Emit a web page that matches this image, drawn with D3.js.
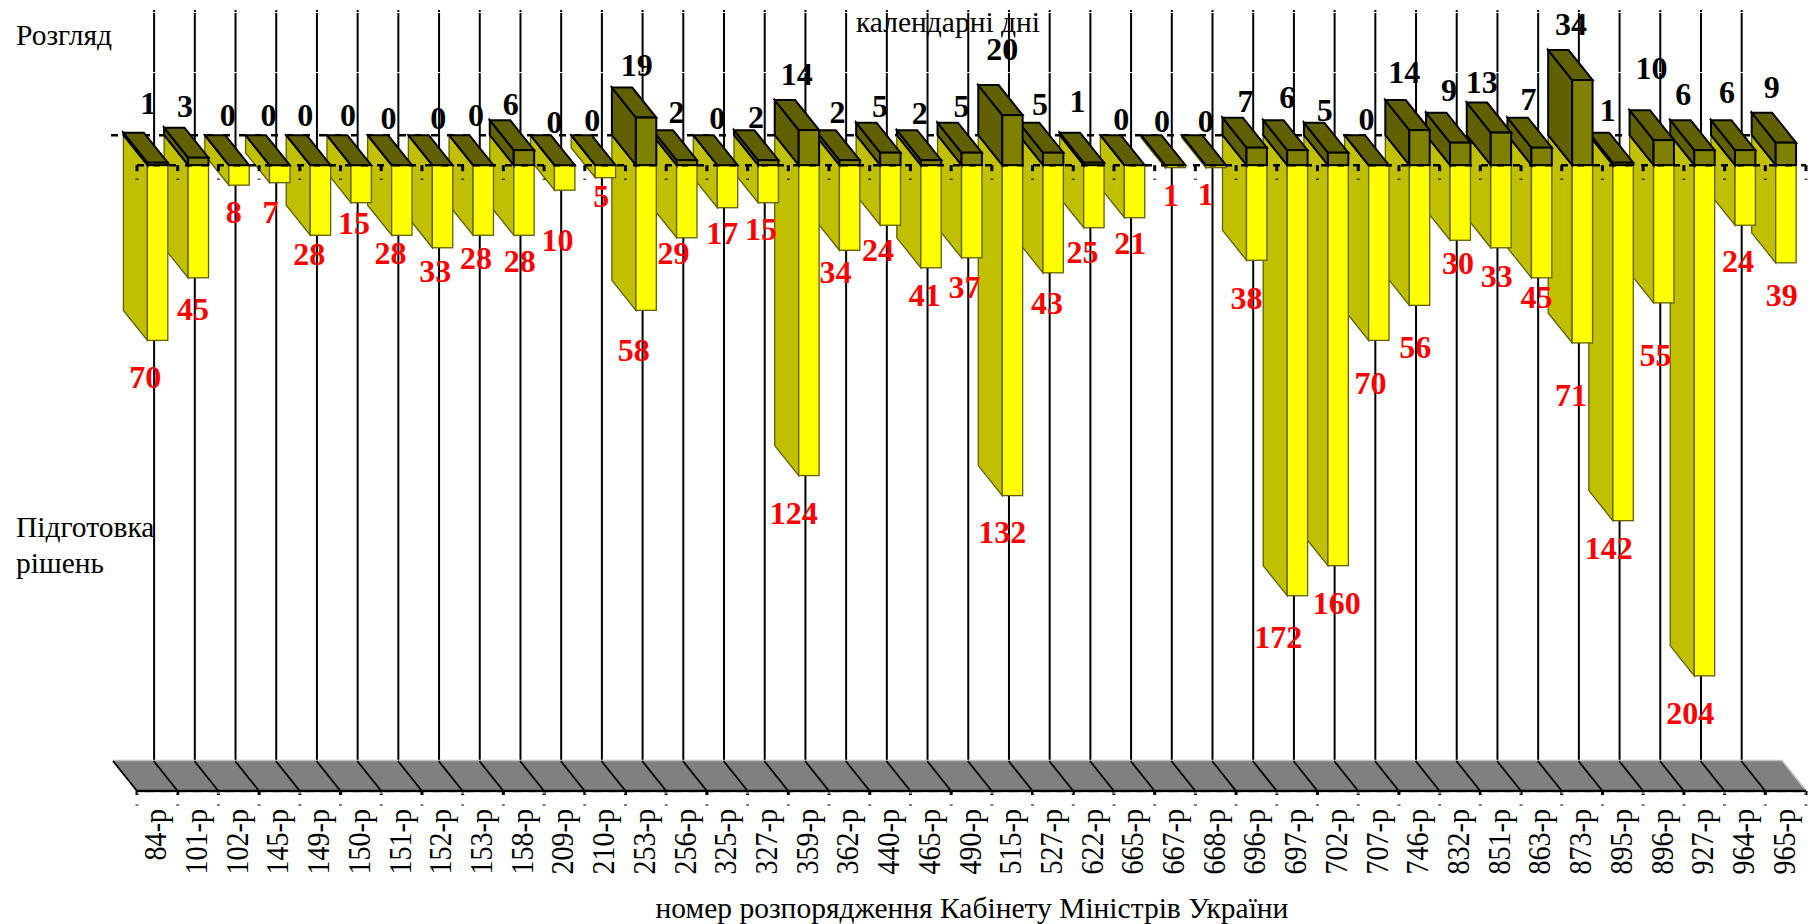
<!DOCTYPE html>
<html>
<head>
<meta charset="utf-8">
<script src="https://cdnjs.cloudflare.com/ajax/libs/d3/7.8.5/d3.min.js"></script>
<style>
  html, body { margin: 0; padding: 0; background: #fff; }
  svg { display: block; }
  text { font-family: "Liberation Serif", serif; }
</style>
</head>
<body>
<svg></svg>
<script>
const orders = ["84-р","101-р","102-р","145-р","149-р","150-р","151-р","152-р","153-р","158-р","209-р","210-р","253-р","256-р","325-р","327-р","359-р","362-р","440-р","465-р","490-р","515-р","527-р","622-р","665-р","667-р","668-р","696-р","697-р","702-р","707-р","746-р","832-р","851-р","863-р","873-р","895-р","896-р","927-р","964-р","965-р"];
const review = [1,3,0,0,0,0,0,0,0,6,0,0,19,2,0,2,14,2,5,2,5,20,5,1,0,0,0,7,6,5,0,14,9,13,7,34,1,10,6,6,9];
const preparation = [70,45,8,7,28,15,28,33,28,28,10,5,58,29,17,15,124,34,24,41,37,132,43,25,21,1,1,38,172,160,70,56,30,33,45,71,142,55,204,24,39];

// the original labels were dragged by hand, so they get their own nudges (px from bar end)
const reviewNudgeX = [-9,-13,-11,-11,-15,-13,-13,-4,-7,-13,-10,-13,-9,-10,-10,-12,-12,-12,-10,-11,-10,-10,-13,-16,-13,-13,-10,-11,-10,-13,-12,-15,-11,-19,-13,-11,-15,-12,-21,-18,-14];
const reviewNudgeY = [-59,-51,-50,-50,-50,-50,-47,-47,-50,-46,-43,-45,-52,-48,-47,-43,-56,-48,-46,-47,-46,-66,-48,-61,-46,-44,-44,-46,-53,-42,-46,-58,-52,-50,-48,-56,-52,-72,-56,-58,-55];
const prepNudgeX = [-12,-5,-5,-9,-11,-7,-11,-7,-7,-4,-7,-4,-12,-13,-5,-7,-15,-14,-12,-6,-7,-10,-6,-11,-4,-4,-10,-10,-19,-1,-8,-4,-2,-4,-5,-11,-14,-8,-14,-7,-4];
const prepNudgeY = [37,32,27,30,19,21,18,24,23,26,50,19,40,16,26,27,38,22,25,28,30,37,31,25,26,28,27,38,42,38,43,42,23,29,20,53,28,53,38,36,33];

const w = 1810, h = 924;
const depthX = 24, depthY = 30;

const svg = d3.select("svg").attr("width", w).attr("height", h);

const x = d3.scaleBand().domain(orders).range([137, 1806]);
const y = d3.scaleLinear().domain([-250, 50]).range([791, 40]);
const barPad = 10.4, barW = 20.4;

function poly(g, pts, fill, stroke, sw) {
  g.append("polygon")
    .attr("points", pts.map(p => p.join(",")).join(" "))
    .attr("fill", fill)
    .attr("stroke", stroke)
    .attr("stroke-width", sw)
    .attr("stroke-linejoin", "miter");
}

// back wall: dashed zero line + vertical gridlines
svg.append("line")
  .attr("x1", x.range()[0] - depthX - 2).attr("x2", x.range()[1] - depthX)
  .attr("y1", y(0) - depthY).attr("y2", y(0) - depthY)
  .attr("stroke", "#000").attr("stroke-width", 2.5).attr("stroke-dasharray", "7 9");

orders.slice(0, -1).forEach(function(d) {
  const gx = x(d) + x.step() - depthX + 0.4;
  svg.append("line")
    .attr("x1", gx).attr("x2", gx)
    .attr("y1", y(50) - depthY).attr("y2", y(-250) - depthY)
    .attr("stroke", "#000").attr("stroke-width", 2);
});
// thin white breaks in the gridlines
[25, 49].forEach(function(v) {
  svg.append("line")
    .attr("x1", x.range()[0] - depthX).attr("x2", x.range()[1] - depthX)
    .attr("y1", y(v) - depthY).attr("y2", y(v) - depthY)
    .attr("stroke", "#fff").attr("stroke-width", 1);
});

// floor
const floor = svg.append("g");
const fl = x.range()[0], fr = x.range()[1], fy = y(-250);
poly(floor, [[fl, fy], [fl - depthX, fy - depthY], [fr - depthX, fy - depthY], [fr, fy]], "#808080", "none", 0);
floor.append("line").attr("x1", fl - depthX).attr("x2", fr - depthX)
  .attr("y1", fy - depthY - 0.5).attr("y2", fy - depthY - 0.5)
  .attr("stroke", "#c0c0c0").attr("stroke-width", 1.5);
floor.append("line").attr("x1", fr - depthX).attr("x2", fr)
  .attr("y1", fy - depthY - 0.5).attr("y2", fy - 0.5)
  .attr("stroke", "#c0c0c0").attr("stroke-width", 1.5);
d3.range(orders.length).forEach(function(i) {
  const bx = fl + i * x.step();
  floor.append("line").attr("x1", bx - depthX).attr("x2", bx)
    .attr("y1", fy - depthY).attr("y2", fy)
    .attr("stroke", "#000").attr("stroke-width", 1.8);
});

// bars are painted right to left so the left ones sit in front
const bars = svg.append("g");
d3.range(orders.length - 1, -1, -1).forEach(function(i) {
  const d = orders[i];
  const x0 = x(d) + barPad, x1 = x0 + barW;
  const y0 = y(0);
  const g = bars.append("g");

  const yn = y(-preparation[i]);
  poly(g, [[x0, y0], [x0 - depthX, y0 - depthY], [x0 - depthX, yn - depthY], [x0, yn]], "#c0c000", "#606000", 1.3);
  g.append("rect").attr("x", x0).attr("y", y0).attr("width", barW).attr("height", yn - y0)
    .attr("fill", "#ffff00").attr("stroke", "#606000").attr("stroke-width", 1.3);

  const yp = y(review[i]);
  poly(g, [[x0, y0], [x0 - depthX, y0 - depthY], [x0 - depthX, yp - depthY], [x0, yp]], "#606000", "#000", 2);
  poly(g, [[x0, yp], [x0 - depthX, yp - depthY], [x1 - depthX, yp - depthY], [x1, yp]], "#606000", "#000", 2);
  g.append("rect").attr("x", x0).attr("y", yp).attr("width", barW).attr("height", y0 - yp)
    .attr("fill", "#808000").attr("stroke", "#000").attr("stroke-width", 2);
});

// zero axis on top of the bars, same for the floor
function baseAxis(yPos, tickLen) {
  svg.append("line").attr("x1", fl).attr("x2", fr).attr("y1", yPos).attr("y2", yPos)
    .attr("stroke", "#000").attr("stroke-width", 2.5)
    .attr("stroke-dasharray", yPos === fy ? null : "7 9");
  d3.range(orders.length + 1).forEach(function(i) {
    const bx = fl + i * x.step();
    svg.append("line").attr("x1", bx).attr("x2", bx).attr("y1", yPos).attr("y2", yPos + tickLen)
      .attr("stroke", "#000").attr("stroke-width", 3);
    svg.append("line").attr("x1", bx - 1.5).attr("x2", bx + 1.5).attr("y1", yPos + 14).attr("y2", yPos + 14)
      .attr("stroke", "#000").attr("stroke-width", 1);
  });
}
baseAxis(y(0), 6);
baseAxis(fy, 4);
svg.append("line").attr("x1", fl).attr("x2", fr).attr("y1", fy + 2).attr("y2", fy + 2)
  .attr("stroke", "#fff").attr("stroke-width", 1).attr("stroke-dasharray", "8 8");

// category labels, a bit squeezed along their length like the original
const xAxis = svg.append("g")
  .attr("transform", `translate(0,${fy})`)
  .call(d3.axisBottom(x).tickSize(0));
xAxis.select(".domain").remove();
xAxis.selectAll("text")
  .attr("font-family", "Liberation Serif")
  .attr("font-size", 30.5)
  .attr("fill", "#000")
  .attr("text-anchor", "end")
  .attr("dy", 0)
  .attr("y", 0)
  .attr("transform", "translate(9,18) rotate(-90) scale(0.92,1)");

// value labels
const valueLabels = svg.append("g").attr("font-size", 32).attr("font-weight", "bold").attr("text-anchor", "middle");
orders.forEach(function(d, i) {
  const cx = x(d) + x.bandwidth() / 2;
  valueLabels.append("text").attr("x", cx + reviewNudgeX[i]).attr("y", y(review[i]) + reviewNudgeY[i])
    .attr("dy", "0.33em").attr("fill", "#000").text(review[i]);
  valueLabels.append("text").attr("x", cx + prepNudgeX[i]).attr("y", y(-preparation[i]) + prepNudgeY[i])
    .attr("dy", "0.33em").attr("fill", "#ff0000").text(preparation[i]);
});

// titles
function label(txt, lx, ly, anchor) {
  svg.append("text").attr("x", lx).attr("y", ly).attr("text-anchor", anchor || "start")
    .attr("font-size", 29.5).attr("fill", "#000").text(txt);
}
label("Розгляд", 16, 45);
label("Підготовка", 16, 537);
label("рішень", 16, 573);
label("календарні дні", 948, 32, "middle");
label("номер розпорядження Кабінету Міністрів України", 972, 917.5, "middle");
</script>
</body>
</html>
